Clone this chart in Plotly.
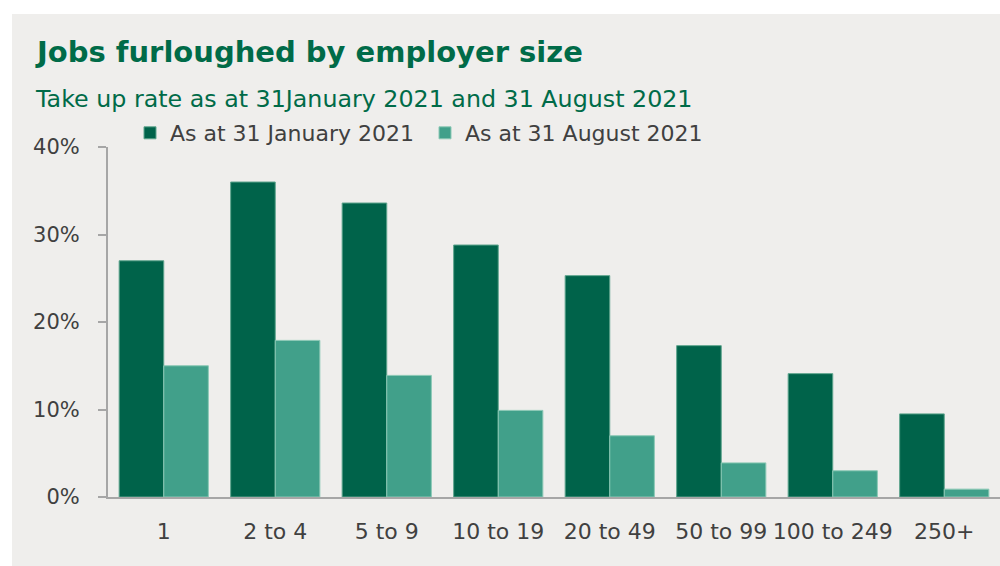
import plotly.graph_objects as go

categories = ["1", "2 to 4", "5 to 9", "10 to 19", "20 to 49", "50 to 99", "100 to 249", "250+"]
jan_2021 = [27.0, 36.0, 33.6, 28.8, 25.3, 17.3, 14.1, 9.5]
aug_2021 = [15.0, 17.9, 13.9, 9.9, 7.0, 3.9, 3.0, 0.9]
series_names = ["As at 31 January 2021", "As at 31 August 2021"]
y_ticks = [0, 10, 20, 30, 40]
y_tick_labels = ["0%", "10%", "20%", "30%", "40%"]

W, H = 1000, 566
ML, MR, MT, MB = 108, 0, 147, 69
PW, PH = W - ML - MR, H - MT - MB

def px_x(x):
    return (x - ML) / PW

def px_y(y):
    return (H - MB - y) / PH

DARK = "#00634A"
LIGHT = "#41A08A"
TEXT = "#404040"
TITLE = "#006B48"
BG = "#EFEEEC"
BODY_FONT = "DejaVu Sans"

fig = go.Figure()
fig.add_trace(go.Bar(x=categories, y=jan_2021, name=series_names[0],
                     marker=dict(color=DARK, line=dict(color="#5FA58E", width=1))))
fig.add_trace(go.Bar(x=categories, y=aug_2021, name=series_names[1],
                     marker=dict(color=LIGHT, line=dict(color="#8CC9B6", width=1))))

fig.update_layout(
    width=W, height=H,
    margin=dict(l=ML, r=MR, t=MT, b=MB, pad=0),
    paper_bgcolor="white",
    plot_bgcolor="rgba(0,0,0,0)",
    barmode="group",
    bargap=0.2,
    bargroupgap=0,
    font=dict(family=BODY_FONT, color=TEXT, size=22),
    showlegend=True,
    legend=dict(orientation="h", x=px_x(130), xanchor="left", y=px_y(133), yanchor="middle",
                font=dict(family=BODY_FONT, size=22, color=TEXT), bgcolor="rgba(0,0,0,0)",
                entrywidth=250, entrywidthmode="pixels", traceorder="normal"),
    xaxis=dict(range=[-0.5, 7.5], showgrid=False, showline=True, linecolor="#A6A6A6", linewidth=2,
               ticks="", tickfont=dict(family=BODY_FONT, size=22, color=TEXT),
               ticklabelstandoff=14, zeroline=False),
    yaxis=dict(range=[0, 40], tickvals=y_ticks, ticktext=y_tick_labels, showgrid=False,
               showline=True, linecolor="#A6A6A6", linewidth=2, ticks="outside", ticklen=8,
               tickwidth=2, tickcolor="#A6A6A6", tickfont=dict(family=BODY_FONT, size=21, color=TEXT),
               ticklabelstandoff=14, zeroline=False),
    shapes=[dict(type="rect", xref="paper", yref="paper", x0=px_x(12), x1=px_x(1010),
                 y0=px_y(600), y1=px_y(14), fillcolor=BG, line=dict(width=0), layer="below")],
    annotations=[
        dict(text="<b>Jobs furloughed by employer size</b>", xref="paper", yref="paper",
             x=px_x(33), y=px_y(52), xanchor="left", yanchor="middle", showarrow=False,
             font=dict(family=BODY_FONT, size=29, color=TITLE)),
        dict(text="Take up rate as at 31January 2021 and 31 August 2021", xref="paper", yref="paper",
             x=px_x(33), y=px_y(99), xanchor="left", yanchor="middle", showarrow=False,
             font=dict(family=BODY_FONT, size=23.75, color=TITLE)),
    ],
)

fig.write_html("out.html")
